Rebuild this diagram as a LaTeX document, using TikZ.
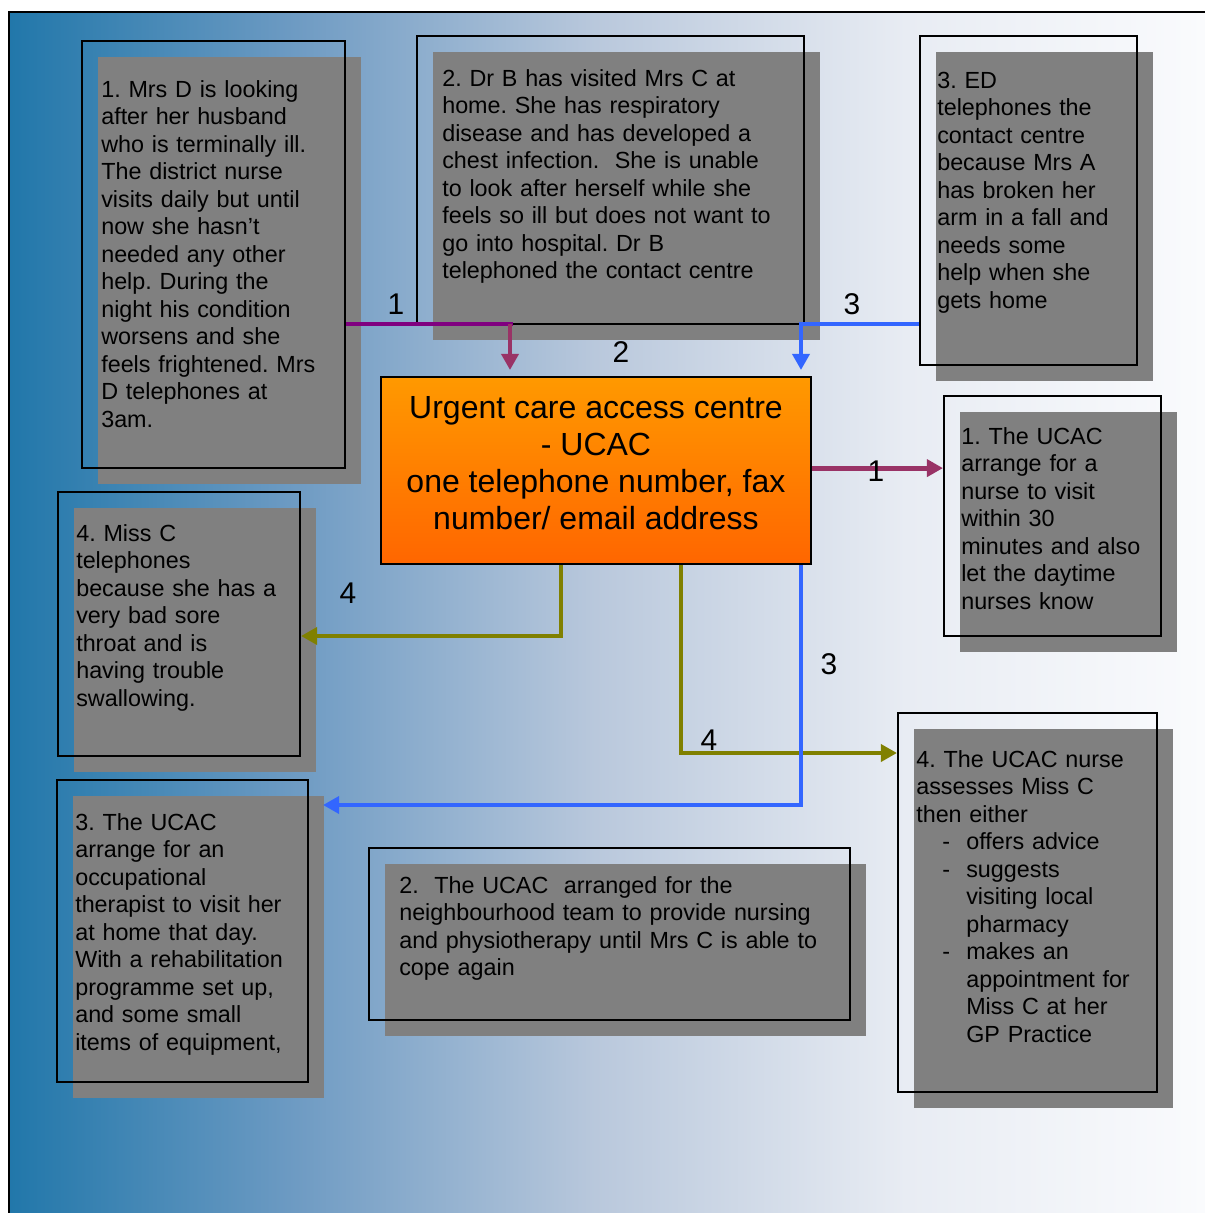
\documentclass[tikz,border=0pt]{standalone}
\usepackage{fontspec}
\setmainfont{Liberation Sans}
\usetikzlibrary{arrows.meta,shadows}

% Colours taken from the chart
\definecolor{boxgrey}{HTML}{808080}
\definecolor{linkpurple}{HTML}{800080}
\definecolor{linkplum}{HTML}{993366}
\definecolor{linkblue}{HTML}{3366FF}
\definecolor{linkolive}{HTML}{808000}
\definecolor{ucactop}{HTML}{FF9900}
\definecolor{ucacbottom}{HTML}{FF6600}
\definecolor{backA}{RGB}{33,119,170}
\definecolor{backB}{RGB}{110,155,195}
\definecolor{backC}{RGB}{185,200,220}
\definecolor{backD}{RGB}{232,236,243}
\definecolor{backE}{RGB}{250,251,253}

% Background: blue on the left fading to white (TikZ fits 25bp..75bp to the path)
\pgfdeclarehorizontalshading{backdrop}{100bp}{color(0bp)=(backA); color(25bp)=(backA); color(37bp)=(backB); color(49.5bp)=(backC); color(62.5bp)=(backD); color(75bp)=(backE); color(100bp)=(backE)}

\frenchspacing

\begin{document}
\begin{tikzpicture}[
    x=0.025cm, y=-0.025cm, % one unit = one pixel of the chart
    >={Triangle[length=0.4cm, width=0.42cm]}, % Set default arrow tip style
    casebox/.style={draw=black, line width=1.4pt, inner sep=0pt,
        drop shadow={shadow xshift=0.4cm, shadow yshift=-0.4cm, fill=boxgrey, opacity=1}},
    casetext/.style={anchor=base west, inner sep=0pt, align=left, text width=12cm,
        font=\fontsize{16.6pt}{19.56pt}\selectfont},
    linklabel/.style={inner sep=0pt, font=\fontsize{21.3pt}{25pt}\selectfont},
    link/.style={line width=3.5pt}
]

    \useasboundingbox (0,0) rectangle (1205,1213);
    \fill[white] (0,0) rectangle (1205,1213);

    % Backdrop with its frame
    \shade[shading=backdrop] (9,12) rectangle (1205,1213);
    \draw[line width=1.8pt] (9,1213) -- (9,12) -- (1205,12);

    % Calls coming in (top row)
    \node[casebox, minimum width=6.575cm, minimum height=10.675cm] (mrsd) at (213.5,254.5) {};
    \node[casebox, minimum width=9.675cm, minimum height=7.2cm] (drb) at (610.5,180) {};
    \node[casebox, minimum width=5.425cm, minimum height=8.225cm] (edcall) at (1028.5,200.5) {};

    \node[casetext] (mrsdtext) at (101,97) {1. Mrs D is looking\\after her husband\\who is terminally ill.\\The district nurse\\visits daily but until\\now she hasn’t\\needed any other\\help. During the\\night his condition\\worsens and she\\feels frightened. Mrs\\D telephones at\\3am.};
    \node[casetext] (drbtext) at (442,86) {2. Dr B has visited Mrs C at\\home. She has respiratory\\disease and has developed a\\chest infection.\ \ She is unable\\to look after herself while she\\feels so ill but does not want to\\go into hospital. Dr B\\telephoned the contact centre};
    \node[casetext] (edtext) at (937,88) {3. ED\\telephones the\\contact centre\\because Mrs A\\has broken her\\arm in a fall and\\needs some\\help when she\\gets home};

    % The centre itself
    \node[draw=black, line width=1.4pt, top color=ucactop, bottom color=ucacbottom,
        minimum width=10.75cm, minimum height=4.675cm] (ucac) at (596,470.5) {};
    \node[align=center, inner sep=0pt, font=\fontsize{22.76pt}{26.2pt}\selectfont]
        (ucactext) at ([yshift=0.18cm]ucac.center)
        {Urgent care access centre\\- UCAC\\one telephone number, fax\\number/ email address};

    % Responses
    \node[casebox, minimum width=5.425cm, minimum height=6cm] (nurse1) at (1052.5,516) {};
    \node[casebox, minimum width=6.05cm, minimum height=6.6cm] (missc) at (179,624) {};
    \node[casebox, minimum width=6.475cm, minimum height=9.475cm] (nurse4) at (1027.5,902.5) {};
    \node[casebox, minimum width=6.275cm, minimum height=7.55cm] (otvisit) at (182.5,931) {};
    \node[casebox, minimum width=12.025cm, minimum height=4.3cm] (neighbour) at (609.5,934) {};

    \node[casetext] (nurse1text) at (961,444) {1. The UCAC\\arrange for a\\nurse to visit\\within 30\\minutes and also\\let the daytime\\nurses know};
    \node[casetext] (miscctext) at (76,541) {4. Miss C\\telephones\\because she has a\\very bad sore\\throat and is\\having trouble\\swallowing.};
    \node[casetext] (nurse4text) at (916,767) {4. The UCAC nurse\\assesses Miss C\\then either\\
        \hspace*{0.65cm}\makebox[0.6cm][l]{-}offers advice\\
        \hspace*{0.65cm}\makebox[0.6cm][l]{-}suggests\\\hspace*{1.25cm}visiting local\\\hspace*{1.25cm}pharmacy\\
        \hspace*{0.65cm}\makebox[0.6cm][l]{-}makes an\\\hspace*{1.25cm}appointment for\\\hspace*{1.25cm}Miss C at her\\\hspace*{1.25cm}GP Practice};
    \node[casetext] (ottext) at (75,830) {3. The UCAC\\arrange for an\\occupational\\therapist to visit her\\at home that day.\\With a rehabilitation\\programme set up,\\and some small\\items of equipment,};
    \node[casetext] (neighbourtext) at (399,893) {2.\ \ The UCAC\ \ arranged for the\\neighbourhood team to provide nursing\\and physiotherapy until Mrs C is able to\\cope again};

    % Links into the centre
    \coordinate (turn1) at (510,324);
    \draw[link, linkpurple] (turn1 -| mrsd.east) -- ([xshift=0.075cm]turn1);
    \draw[link, linkplum, ->, shorten >=0.15cm] (turn1) -- (turn1 |- ucac.north);
    \coordinate (turn3) at (801,324);
    \draw[link, linkblue, ->, shorten >=0.15cm] (turn3 -| edcall.west) -- (turn3) -- (turn3 |- ucac.north);

    % Links out of the centre
    \draw[link, linkplum, ->] ([yshift=0.06cm]ucac.east) -- ([yshift=0.06cm]ucac.east -| nurse1.west);
    \coordinate (turn4a) at (561,636);
    \draw[link, linkolive, ->] (turn4a |- ucac.south) -- (turn4a) -- (turn4a -| missc.east);
    \coordinate (turn4b) at (681,753);
    \draw[link, linkolive, ->] (turn4b |- ucac.south) -- (turn4b) -- (turn4b -| nurse4.west);
    \coordinate (turn3b) at (801,805);
    \draw[link, linkblue, ->] (turn3b |- ucac.south) -- (turn3b) -- ([xshift=0.35cm]turn3b -| otvisit.east);

    % Step numbers
    \node[linklabel] (num1a) at (396,304) {1};
    \node[linklabel] (num2) at (621,352) {2};
    \node[linklabel] (num3a) at (852,304) {3};
    \node[linklabel] (num1b) at (876,471) {1};
    \node[linklabel] (num4a) at (348,593) {4};
    \node[linklabel] (num4b) at (709,740) {4};
    \node[linklabel] (num3b) at (829,664) {3};

\end{tikzpicture}
\end{document}
